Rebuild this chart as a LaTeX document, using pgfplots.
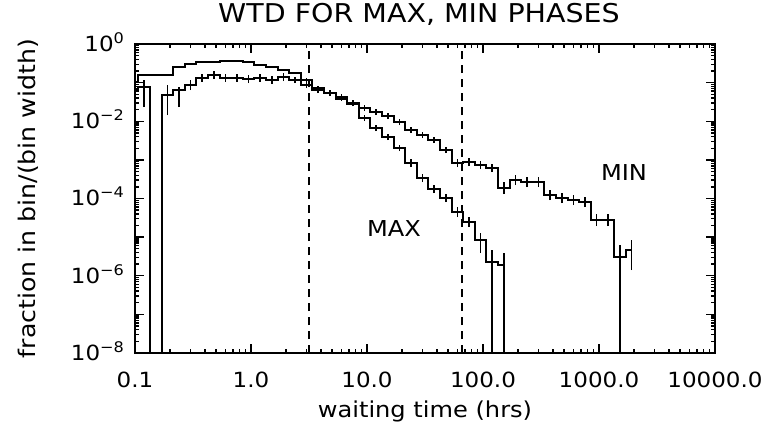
\documentclass[border=0pt]{standalone}
\usepackage{fontspec}
\setmainfont{DejaVu Sans}[FakeStretch=1.1]
\usepackage{pgfplots}
\pgfplotsset{compat=1.18}
\begin{document}
\begin{tikzpicture}
\path[use as bounding box] (-67.5bp,-36bp) rectangle (323bp,176.5bp);
\begin{axis}[
  at={(0,0)}, anchor=south west,
  scale only axis, width=290bp, height=154.5bp,
  xmode=log, ymode=log,
  xmin=0.1, xmax=10000, ymin=1e-8, ymax=1,
  xtick={0.1,1,10,100,1000,10000},
  xticklabels={0.1,1.0,10.0,100.0,1000.0,10000.0},
  minor xtick={0.2,0.3,0.4,0.5,0.6,0.7,0.8,0.9,2,3,4,5,6,7,8,9,20,30,40,50,60,70,80,90,200,300,400,500,600,700,800,900,2000,3000,4000,5000,6000,7000,8000,9000},
  ytick={1e-8,1e-7,1e-6,1e-5,1e-4,1e-3,1e-2,1e-1,1},
  yticklabels={10\textsuperscript{−8},,10\textsuperscript{−6},,10\textsuperscript{−4},,10\textsuperscript{−2},,10\textsuperscript{0}},
  /pgf/number format/assume math mode=true,
  tick label style={font=\fontsize{10.5}{12}\selectfont},
  xticklabel style={anchor=base, yshift=-17bp},
  yticklabel style={anchor=base east, yshift=-3.7bp, xshift=-1.5bp},
  major tick length=4.5bp, minor tick length=2bp,
  every tick/.style={black, line width=0.7bp},
  axis line style={line width=1bp},
  xtick pos=both, ytick pos=both, tick align=inside,
  title={WTD FOR MAX, MIN PHASES},
  title style={font=\fontsize{13}{15}\selectfont, anchor=base, at={(0.5,1)}, yshift=5bp, xshift=-3bp},
  xlabel={waiting time (hrs)},
  xlabel style={font=\fontsize{11}{13}\selectfont, anchor=base, at={(0.5,0)}, yshift=-32bp},
  ylabel={fraction in bin/(bin width)},
  ylabel style={font=\fontsize{11.5}{13}\selectfont, anchor=center, at={(0,0.5)}, yshift=53.5bp},
  unbounded coords=jump,
  clip=true,
]
% MAX phase histogram
\addplot[black, line width=1bp, const plot mark mid, mark=none] coordinates {
(0.0955,0.104) (0.1202,0.157) (0.1514,0.157) (0.1905,0.157) (0.2399,0.254)
(0.3020,0.303) (0.3802,0.342) (0.4786,0.342) (0.6026,0.363) (0.7586,0.363)
(0.9550,0.342) (1.202,0.286) (1.514,0.254) (1.905,0.212) (2.399,0.177)
(3.020,0.117) (3.802,0.0724) (4.786,0.0538) (6.026,0.0376) (7.586,0.0279)
(9.550,0.0121) (12.02,0.00667) (15.14,0.00390) (19.05,0.00202) (23.99,0.000826)
(30.20,0.000338) (38.02,0.000175) (47.86,0.000102) (60.26,0.0000444) (75.86,0.0000245)
(95.50,0.00000836) (120.2,0.00000225) (151.4,0.00000188)
};
% MIN phase histogram
\addplot[black, line width=1bp, const plot mark mid, mark=none] coordinates {
(0.0955,0.0643) (0.1202,0.0769) (0.1514,1e-12) (0.1905,0.0478) (0.2399,0.0643)
(0.3020,0.0867) (0.3802,0.132) (0.4786,0.157) (0.6026,0.132) (0.7586,0.132)
(0.9550,0.124) (1.202,0.132) (1.514,0.117) (1.905,0.140) (2.399,0.117)
(3.020,0.0867) (3.802,0.0643) (4.786,0.0538) (6.026,0.0424) (7.586,0.0296)
(9.550,0.0220) (12.02,0.0173) (15.14,0.0136) (19.05,0.00953) (23.99,0.00592)
(30.20,0.00439) (38.02,0.00326) (47.86,0.00179) (60.26,0.000826) (75.86,0.000877)
(95.50,0.000733) (120.2,0.000613) (151.4,0.000186) (190.5,0.000300) (239.9,0.000266)
(302.0,0.000266) (380.2,0.000122) (478.6,0.000102) (602.6,0.0000910) (758.6,0.0000807)
(955.0,0.0000275) (1202,0.0000275) (1514,0.00000303) (1905,0.0000046)
};
% MIN error bars
\addplot[black, line width=0.8bp, mark=none] coordinates {
(0.1202,0.0233) (0.1202,0.117) (0.1202,nan)
(0.1905,0.0145) (0.1905,0.0867) (0.1905,nan)
(0.2399,0.0233) (0.2399,0.0769) (0.2399,nan)
(0.3020,0.0643) (0.3020,0.117) (0.3020,nan)
(0.3802,0.104) (0.3802,0.167) (0.3802,nan)
(0.4786,0.124) (0.4786,0.199) (0.4786,nan)
(0.6026,0.104) (0.6026,0.167) (0.6026,nan)
(0.7586,0.104) (0.7586,0.167) (0.7586,nan)
(0.9550,0.0977) (0.9550,0.157) (0.9550,nan)
(1.202,0.104) (1.202,0.167) (1.202,nan)
(1.514,0.0922) (1.514,0.148) (1.514,nan)
(1.905,0.110) (1.905,0.178) (1.905,nan)
(2.399,0.0978) (2.399,0.140) (2.399,nan)
(3.020,0.0725) (3.020,0.104) (3.020,nan)
(3.802,0.0538) (3.802,0.0769) (3.802,nan)
(4.786,0.0450) (4.786,0.0643) (4.786,nan)
(6.026,0.0355) (6.026,0.0507) (6.026,nan)
(7.586,0.0247) (7.586,0.0354) (7.586,nan)
(9.550,0.0184) (9.550,0.0263) (9.550,nan)
(12.02,0.0145) (12.02,0.0207) (12.02,nan)
(15.14,0.0114) (15.14,0.0163) (15.14,nan)
(19.05,0.00797) (19.05,0.0114) (19.05,nan)
(23.99,0.00495) (23.99,0.00708) (23.99,nan)
(30.20,0.00367) (30.20,0.00525) (30.20,nan)
(38.02,0.00273) (38.02,0.00390) (38.02,nan)
(47.86,0.00150) (47.86,0.00214) (47.86,nan)
(60.26,0.000651) (60.26,0.00105) (60.26,nan)
(75.86,0.000691) (75.86,0.00111) (75.86,nan)
(95.50,0.000578) (95.50,0.000930) (95.50,nan)
(120.2,0.000483) (120.2,0.000778) (120.2,nan)
(151.4,0.000130) (151.4,0.000266) (151.4,nan)
(190.5,0.000223) (190.5,0.000404) (190.5,nan)
(239.9,0.000197) (239.9,0.000359) (239.9,nan)
(302.0,0.000197) (302.0,0.000359) (302.0,nan)
(380.2,0.0000905) (380.2,0.000164) (380.2,nan)
(478.6,0.0000757) (478.6,0.000137) (478.6,nan)
(602.6,0.0000675) (602.6,0.000123) (602.6,nan)
(758.6,0.0000599) (758.6,0.000109) (758.6,nan)
(955.0,0.0000192) (955.0,0.0000393) (955.0,nan)
(1202,0.0000192) (1202,0.0000393) (1202,nan)
(1514,1e-12) (1514,0.0000062) (1514,nan)
(1905,0.0000014) (1905,0.00000836)
};
% MAX error bars
\addplot[black, line width=0.8bp, mark=none] coordinates {
(3.020,0.104) (3.020,0.132) (3.020,nan)
(3.802,0.0642) (3.802,0.0816) (3.802,nan)
(4.786,0.0477) (4.786,0.0606) (4.786,nan)
(6.026,0.0334) (6.026,0.0424) (6.026,nan)
(7.586,0.0248) (7.586,0.0314) (7.586,nan)
(9.550,0.0101) (9.550,0.0145) (9.550,nan)
(12.02,0.00558) (12.02,0.00798) (12.02,nan)
(15.14,0.00326) (15.14,0.00466) (15.14,nan)
(19.05,0.00169) (19.05,0.00242) (19.05,nan)
(23.99,0.000651) (23.99,0.00105) (23.99,nan)
(30.20,0.000266) (30.20,0.000429) (30.20,nan)
(38.02,0.000138) (38.02,0.000222) (38.02,nan)
(47.86,0.0000804) (47.86,0.000129) (47.86,nan)
(60.26,0.0000329) (60.26,0.0000599) (60.26,nan)
(75.86,0.0000182) (75.86,0.0000330) (75.86,nan)
(95.50,0.00000385) (95.50,0.0000127) (95.50,nan)
(120.2,1e-12) (120.2,0.0000046) (120.2,nan)
(151.4,1e-12) (151.4,0.00000385)
};
% dashed phase boundaries
\addplot[black, line width=0.8bp, dash pattern=on 4bp off 3bp] coordinates {(3.16,1e-8) (3.16,1)};
\addplot[black, line width=0.8bp, dash pattern=on 4bp off 3bp] coordinates {(66,1e-8) (66,1)};
\node[font=\fontsize{11}{13}\selectfont] at (axis cs:17.1,1.71e-5) {MAX};
\node[font=\fontsize{11}{13}\selectfont] at (axis cs:1644,4.83e-4) {MIN};
\end{axis}
\end{tikzpicture}
\end{document}
